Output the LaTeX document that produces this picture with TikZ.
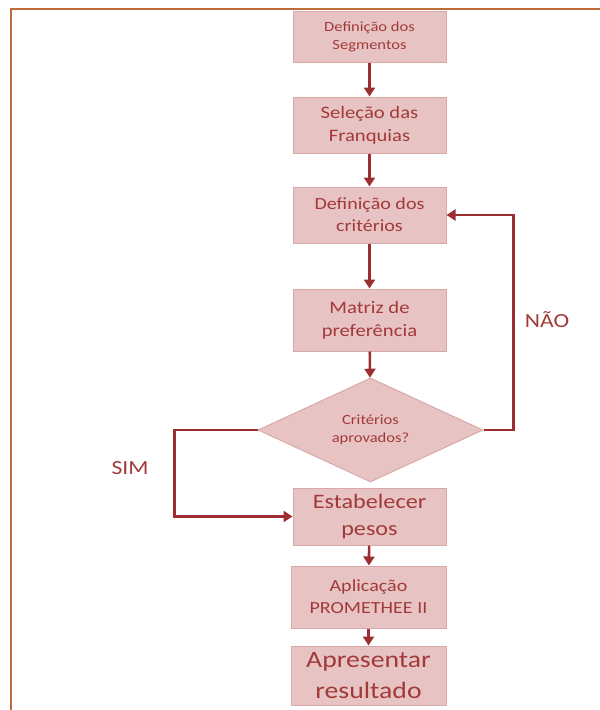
\documentclass[tikz,border=0pt]{standalone}
\usepackage{xcolor}
\usepackage{fontspec}
\setmainfont[FakeStretch=1.18]{Carlito}
\usepackage{tikz}
\usetikzlibrary{positioning,arrows.meta,shapes.geometric}
\definecolor{boxfill}{HTML}{E8C3C3}
\definecolor{boxline}{HTML}{D9A9A9}
\definecolor{boxtext}{HTML}{A23A3A}
\definecolor{flowred}{HTML}{9C2D30}
\definecolor{framebrown}{HTML}{BF6A3B}
\newcommand{\fsz}[1]{\fontsize{#1}{1.3\dimexpr#1pt\relax}\selectfont}

\begin{document}
\begin{tikzpicture}[x=1pt,y=-1pt,
    stepbox/.style={draw=boxline, line width=1pt, fill=boxfill, text=boxtext,
      align=center, inner sep=0pt, minimum width=153pt},
    decision/.style={diamond, draw=boxline, line width=1pt, fill=boxfill, text=boxtext,
      align=center, inner sep=0pt, aspect=2.16, minimum width=225pt, minimum height=104pt},
    flow/.style={draw=flowred, line width=2.6pt, -{Triangle[length=9pt,width=11pt]}},
    lbl/.style={text=boxtext, inner sep=0pt}]
  \useasboundingbox (0,0) rectangle (600,710);
  \draw[framebrown, line width=2.6pt] (11,710) -- (11,9) -- (600,9);

  \node[stepbox, minimum height=51pt, font=\fsz{14}] (seg) at (369.5,36.5)
    {Definição dos\\Segmentos};
  \node[stepbox, minimum height=56pt, font=\fsz{17.5}] (fran) at (369.5,125)
    {Seleção das\\Franquias};
  \node[stepbox, minimum height=56pt, font=\fsz{17}] (crit) at (369.5,215)
    {Definição dos\\critérios};
  \node[stepbox, minimum height=62pt, font=\fsz{17.5}] (matriz) at (369.5,320)
    {Matriz de\\preferência};
  \node[decision, font=\fsz{14}] (dec) at (370.5,430)
    {Critérios\\aprovados?};
  \node[stepbox, minimum height=57pt, font=\fsz{20.5}] (pesos) at (369.5,516.5)
    {Estabelecer\\pesos};
  \node[stepbox, minimum width=155pt, minimum height=62pt, font=\fsz{17}] (prom) at (368.5,597)
    {Aplicação\\PROMETHEE II};
  \node[stepbox, minimum width=155pt, minimum height=59pt, font=\fsz{23.5}] (res) at (368.5,675.5)
    {Apresentar\\resultado};

  \draw[flow] (seg) -- (fran);
  \draw[flow] (fran) -- (crit);
  \draw[flow] (crit) -- (matriz);
  \draw[flow] (matriz) -- (dec);
  \draw[flow] (dec.east) -- ++(30,0) |- (crit.east);
  \draw[flow] (dec.west) -- ++(-83,0) |- (pesos.west);
  \draw[flow] (pesos) -- (prom);
  \draw[flow] (prom) -- (res);

  \node[lbl, font=\fsz{20}] (nao) at (547,320) {NÃO};
  \node[lbl, font=\fsz{20}] (sim) at (130,468) {SIM};
\end{tikzpicture}
\end{document}
